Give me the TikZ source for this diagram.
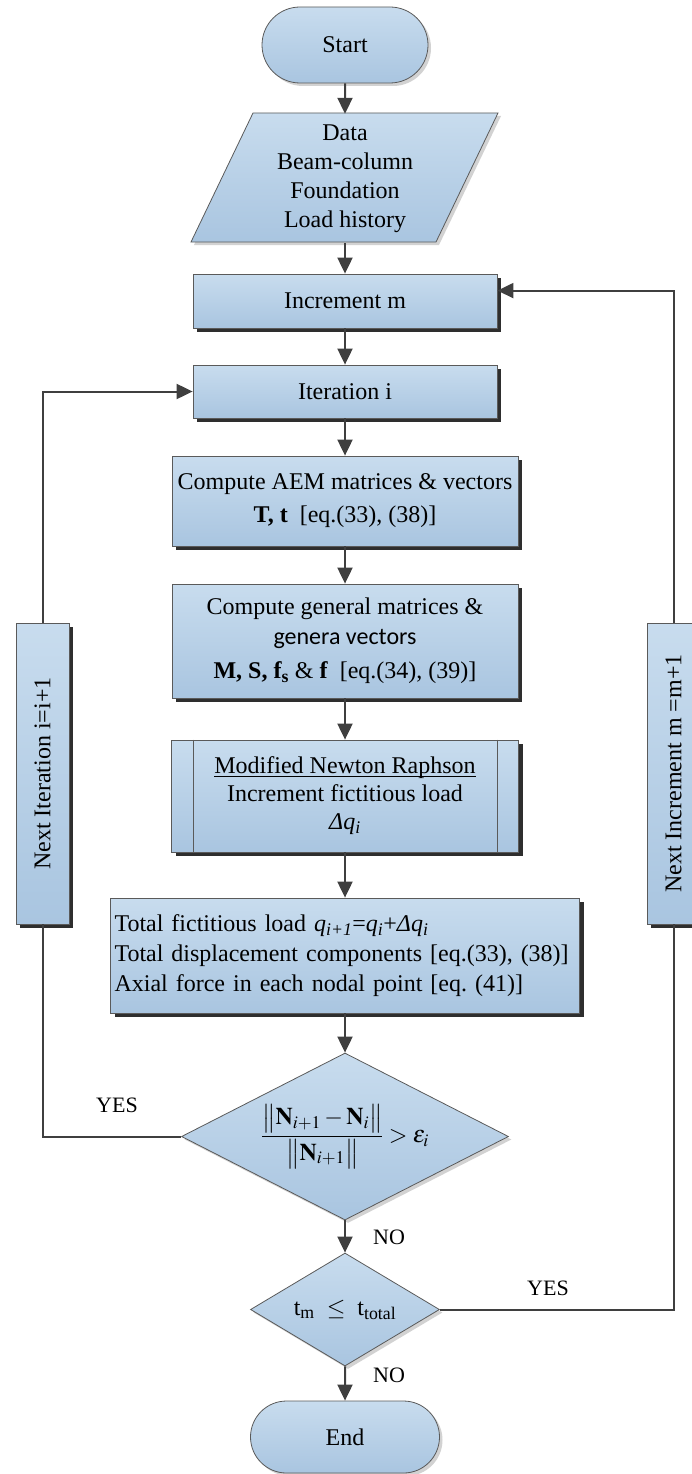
\documentclass[tikz,border=0pt]{standalone}
\usepackage{mathptmx}
\usepackage[no-math]{fontspec}
\setmainfont{Liberation Serif}
\newfontfamily\calib{Carlito}
\usetikzlibrary{shapes.geometric,shapes.misc,shadows,arrows.meta,calc}
\definecolor{topc}{HTML}{C8DCEE}
\definecolor{botc}{HTML}{A9C5E0}
\definecolor{edgec}{HTML}{5A5A5A}
\definecolor{linec}{HTML}{3F3F3F}
\definecolor{shadc}{HTML}{2E2E2E}
\definecolor{softc}{HTML}{D2D2D2}
\newcommand{\myul}[1]{\begingroup\setbox0\hbox{#1}\rlap{\rule[-2.6pt]{\wd0}{1pt}}\box0\endgroup}
\begin{document}
\begin{tikzpicture}[x=1pt,y=-1pt,
  every node/.style={font=\fontsize{24}{30}\selectfont},
  bluefill/.style={top color=topc,bottom color=botc,draw=edgec,line width=0.8pt},
  proc/.style={bluefill,rectangle,inner sep=2pt,align=center,
    drop shadow={shadow xshift=4pt,shadow yshift=-4pt,fill=shadc,opacity=1}},
  softshadow/.style={drop shadow={shadow xshift=3pt,shadow yshift=-3pt,fill=softc,opacity=1}},
  term/.style={bluefill,rounded rectangle,inner sep=0pt,softshadow},
  dec/.style={bluefill,diamond,inner sep=0pt,softshadow},
  conn/.style={draw=linec,line width=2pt},
  arr/.style={conn,-{Triangle[length=16pt,width=15pt]}},
  lbl/.style={font=\fontsize{22}{26}\selectfont},
]
\useasboundingbox (0,0) rectangle (691,1474);

% start
\node[term,minimum width=166pt,minimum height=76pt] (start) at (345,45) {Start};

% data (parallelogram)
\path[bluefill,softshadow] (253,113) -- (498,113) -- (436,242) -- (191,242) -- cycle;
\node[align=center,minimum height=129pt,inner sep=0pt,font=\fontsize{24}{29}\selectfont] (data) at (345,178.5)
  {Data\\Beam-column\\Foundation\\Load history};

\node[proc,minimum width=304pt,minimum height=54pt] (incr) at (345,301) {Increment m};
\node[proc,minimum width=304pt,minimum height=53pt] (iter) at (345,391.5) {Iteration i};
\node[proc,minimum width=346pt,minimum height=90pt] (aem) at (345,501)
  {Compute AEM matrices \& vectors\\[3pt]\textbf{T, t}\ \ [eq.(33), (38)]};
\node[proc,minimum width=346pt,minimum height=114pt] (gen) at (345,641)
  {Compute general matrices \&\\{\calib genera vectors}\\[4pt]\textbf{M, S, f\textsubscript{s}} \& \textbf{f}\ \ [eq.(34), (39)]};
\node[proc,minimum width=347pt,minimum height=112pt,font=\fontsize{24}{28}\selectfont] (mnr) at (345,796)
  {\myul{Modified Newton Raphson}\\Increment fictitious load\\\textit{Δq\textsubscript{i}}};
\draw[draw=edgec,line width=0.8pt] ([xshift=22pt]mnr.north west) -- ([xshift=22pt]mnr.south west);
\draw[draw=edgec,line width=0.8pt] ([xshift=-22pt]mnr.north east) -- ([xshift=-22pt]mnr.south east);
\node[proc,inner xsep=4pt,text width=461pt,align=left,minimum height=115pt] (total) at (345,955.5)
  {Total fictitious load \textit{q\textsubscript{i+1}}=\textit{q\textsubscript{i}}+\textit{Δq\textsubscript{i}}\\
   Total displacement components [eq.(33), (38)]\\
   Axial force in each nodal point [eq.\ (41)]};

\node[dec,shape aspect=2,minimum width=327pt,minimum height=167pt] (d1) at (345,1136.5)
  {$\displaystyle\frac{\bigl\|\mathbf{N}_{i+1}-\mathbf{N}_{i}\bigr\|}{\bigl\|\mathbf{N}_{i+1}\bigr\|}>\varepsilon_{i}$};
\node[dec,shape aspect=1.7,minimum width=189pt,minimum height=113pt] (d2) at (345,1309.5)
  {t\textsubscript{m}\ \ $\leq$\ \ t\textsubscript{total}};
\node[term,minimum width=189pt,minimum height=72pt] (end) at (345,1437) {End};

\node[proc,minimum width=53pt,minimum height=301pt,inner sep=0pt] (nexti) at (42.5,773.5)
  {\rotatebox{90}{Next Iteration i=i+1}};
\node[proc,minimum width=53pt,minimum height=301pt,inner sep=0pt] (nextm) at (673.5,773.5)
  {\rotatebox{90}{Next Increment m =m+1}};

% labels
\node[lbl] (yes1) at (117,1105) {YES};
\node[lbl] (yes2) at (548,1288) {YES};
\node[lbl] (no1) at (389,1237) {NO};
\node[lbl] (no2) at (389,1375) {NO};

% main flow
\draw[arr] (start) -- (data);
\draw[arr] (data) -- (incr);
\draw[arr] (incr) -- (iter);
\draw[arr] (iter) -- (aem);
\draw[arr] (aem) -- (gen);
\draw[arr] (gen) -- (mnr);
\draw[arr] (mnr) -- (total);
\draw[arr] (total) -- (d1);
\draw[arr] (d1) -- (d2);
\draw[arr] (d2) -- (end);

% loops
\draw[conn] (d1.west) -| (nexti.south);
\draw[arr] (nexti.north) |- (iter.west);
\coordinate (incrin) at ($(incr.north east)!0.31!(incr.south east)$);
\draw[conn] (d2.east) -| (nextm.south);
\draw[arr] (nextm.north) |- (incrin);
\end{tikzpicture}
\end{document}
